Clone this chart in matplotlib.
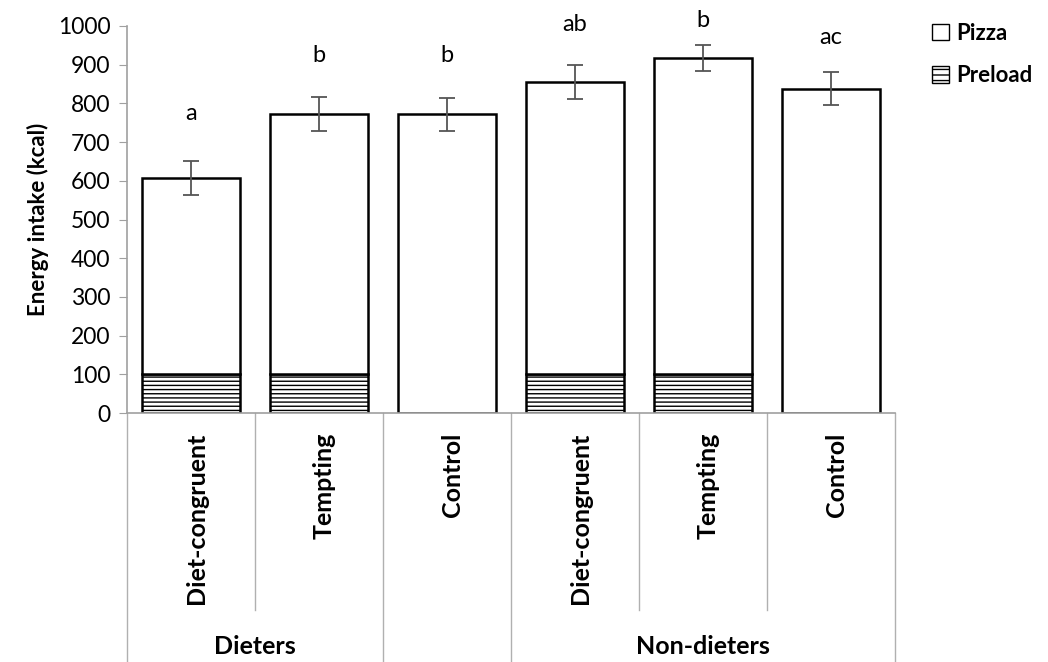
import matplotlib
matplotlib.use("Agg")
import matplotlib.pyplot as plt
from matplotlib.patches import Patch
import numpy as np

plt.rcParams['font.family'] = ['Lato', 'DejaVu Sans']
plt.rcParams['hatch.linewidth'] = 1.0

conditions = ["Diet-congruent", "Tempting", "Control",
              "Diet-congruent", "Tempting", "Control"]
preload = [100, 100, 0, 100, 100, 0]
pizza = [507, 672, 772, 755, 817, 838]
sem = [43, 44, 43, 43, 33, 43]
letters = ["a", "b", "b", "ab", "b", "ac"]
letter_y = [775, 925, 925, 1003, 1015, 971]
groups = ["Dieters", "Non-dieters"]

fig = plt.figure(figsize=(10.48, 6.62), dpi=100)
ax = fig.add_axes([127 / 1048, 1 - 413 / 662, (895 - 127) / 1048, (413 - 26) / 662])

x = np.arange(len(conditions))
total = np.array(preload) + np.array(pizza)
w = 0.76
ax.bar(x, preload, width=w, color="white", edgecolor="black", linewidth=1.8,
       hatch="----", zorder=2)
ax.bar(x, pizza, bottom=preload, width=w, color="white", edgecolor="black",
       linewidth=1.8, zorder=2)
ax.errorbar(x, total, yerr=sem, fmt="none", ecolor="#555555", elinewidth=1.3,
            capsize=6, capthick=1.3, zorder=3)

for xi, lab, ly in zip(x, letters, letter_y):
    ax.text(xi, ly, lab, ha="center", va="center", fontsize=17, clip_on=False)

ax.set_xlim(-0.5, 5.5)
ax.set_ylim(0, 1000)
ax.set_yticks(range(0, 1001, 100))
ax.tick_params(axis="y", direction="out", length=6, color="#a0a0a0",
               labelsize=16.5, pad=6)
ax.set_xticks([])
ax.set_ylabel("Energy intake (kcal)", fontsize=16, fontweight="bold", labelpad=6)

for s in ["top", "right"]:
    ax.spines[s].set_visible(False)
for s in ["left", "bottom"]:
    ax.spines[s].set_color("#a0a0a0")
    ax.spines[s].set_linewidth(1.2)

# category axis: rotated labels with divider lines and group labels
trans = ax.get_xaxis_transform()
short_end = -(610 - 413) / 387
long_end = -(662 - 413) / 387
for xi, lab in zip(x, conditions):
    ax.text(xi + 0.04, -0.05, lab, rotation=90, ha="center", va="top",
            fontsize=18, fontweight="bold", transform=trans)
for d in [0.5, 3.5, 4.5]:
    ax.plot([d, d], [0, short_end], color="#b0b0b0", lw=1.0,
            transform=trans, clip_on=False)
for d in [-0.5, 1.5, 2.5, 5.5]:
    ax.plot([d, d], [0, long_end], color="#b0b0b0", lw=1.0,
            transform=trans, clip_on=False)
ax.text(0.5, -(646 - 413) / 387, groups[0], ha="center", va="center",
        fontsize=18, fontweight="bold", transform=trans)
ax.text(4.0, -(646 - 413) / 387, groups[1], ha="center", va="center",
        fontsize=18, fontweight="bold", transform=trans)

handles = [Patch(facecolor="white", edgecolor="black", linewidth=1.0, label="Pizza"),
           Patch(facecolor="white", edgecolor="black", linewidth=1.0,
                 hatch="---", label="Preload")]
fig.legend(handles=handles, loc="upper left", bbox_to_anchor=(912 / 1048, 1 - 3 / 662),
           frameon=False, handlelength=0.75, handleheight=0.75, handletextpad=0.35,
           labelspacing=0.95, prop={"size": 16, "weight": "bold"})

fig.savefig("out.png", dpi=100)
